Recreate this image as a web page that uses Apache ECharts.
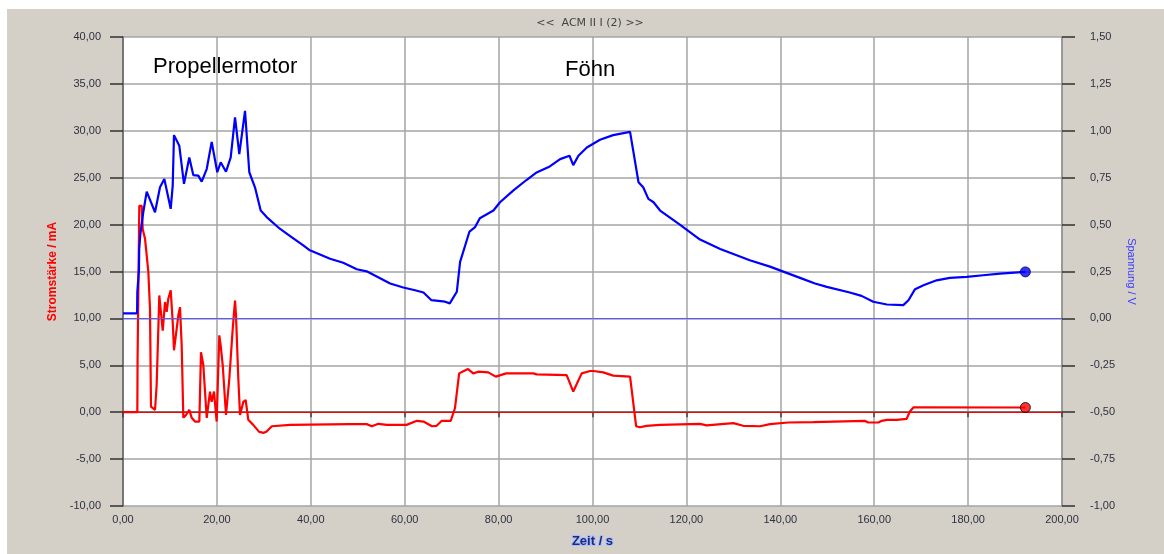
<!DOCTYPE html>
<html>
<head>
<meta charset="utf-8">
<script src="https://cdn.jsdelivr.net/npm/echarts@6/dist/echarts.min.js"></script>
<style>
html,body{margin:0;padding:0;background:#fff;}
#chart{width:1164px;height:554px;}
</style>
</head>
<body>
<div id="chart"></div>
<script>
// ---- data (time in s, value) ----
const headerText = '<<  ACM II I (2) >>';
const xTicks = [0, 20, 40, 60, 80, 100, 120, 140, 160, 180, 200];
const leftRange = [-10, 40, 5];      // Stromstärke / mA
const rightRange = [-1, 1.5, 0.25];  // Spannung / V
const annotations = ['Propellermotor', 'Föhn'];

// Spannung / V (blue, right axis)
const voltagePoints = [
  [0, 0.027], [3.0, 0.027], [3.05, 0.14], [3.4, 0.26], [3.45, 0.37], [3.7, 0.45],
  [4.32, 0.566], [5.05, 0.676], [6.82, 0.566], [7.88, 0.699], [8.80, 0.743],
  [10.16, 0.584], [10.59, 0.708], [10.86, 0.977], [11.99, 0.920], [12.99, 0.717],
  [14.12, 0.858], [14.97, 0.764], [16.04, 0.761], [16.76, 0.729], [17.83, 0.796],
  [18.89, 0.941], [20.08, 0.779], [20.81, 0.832], [21.94, 0.782], [22.94, 0.858],
  [23.86, 1.071], [24.77, 0.876], [25.99, 1.106], [26.90, 0.779], [28.11, 0.699],
  [29.33, 0.575], [30.6, 0.54], [33.4, 0.478], [35.6, 0.439], [38.4, 0.389],
  [39.8, 0.363], [44.1, 0.318], [46.9, 0.297], [49.8, 0.262], [51.9, 0.251],
  [56.9, 0.186], [59.7, 0.165], [62.2, 0.150], [64.0, 0.138], [65.7, 0.097],
  [68.6, 0.089], [69.6, 0.080], [71.1, 0.142], [71.8, 0.301], [73.8, 0.463],
  [75.0, 0.487], [76.0, 0.534], [78.9, 0.575], [80.3, 0.619], [83.1, 0.681],
  [86.0, 0.739], [88.1, 0.778], [90.9, 0.810], [93.1, 0.849], [95.1, 0.867],
  [95.9, 0.817], [97.0, 0.867], [98.8, 0.911], [101.6, 0.952], [104.4, 0.977],
  [108.0, 0.994], [109.8, 0.726], [110.8, 0.699], [111.9, 0.637], [113.0, 0.619],
  [114.4, 0.575], [118.6, 0.50], [122.9, 0.42], [127.2, 0.37], [133.5, 0.31],
  [137.8, 0.276], [144.2, 0.216], [147.4, 0.186], [149.9, 0.168], [154.8, 0.138],
  [157.3, 0.120], [159.8, 0.089], [162.7, 0.074], [166.2, 0.071], [167.3, 0.097],
  [168.7, 0.156], [170.5, 0.177], [173.3, 0.203], [176.1, 0.216], [179.7, 0.221],
  [183.2, 0.230], [186.8, 0.239], [192.2, 0.248]
];

// Stromstärke / mA (red, left axis)
const currentPoints = [
  [0, 0], [3.05, 0], [3.1, 5.4], [3.47, 22.0], [3.98, 22.0], [4.2, 19.5],
  [4.69, 18.5], [5.39, 15.0], [5.75, 11.0], [5.96, 0.6], [6.82, 0.25],
  [7.17, 2.9], [7.73, 12.45], [8.03, 10.9], [8.46, 8.7], [8.95, 11.75],
  [9.31, 10.7], [9.65, 12.1], [10.16, 13.0], [10.59, 9.6], [10.86, 6.6],
  [11.44, 8.9], [11.78, 10.3], [12.14, 11.2], [12.5, 7.1], [12.85, -0.6],
  [13.42, -0.3], [14.12, 0.25], [14.63, -0.6], [15.34, -1.0], [16.26, -1.0],
  [16.61, 6.4], [17.11, 5.0], [17.83, -0.6], [18.53, 2.2], [18.89, 1.1],
  [19.38, 2.2], [19.95, -1.0], [20.51, 8.2], [20.81, 7.1], [21.24, 5.0],
  [21.94, -0.3], [22.65, 3.6], [23.37, 8.9], [23.86, 11.9], [24.07, 10.3],
  [24.56, 3.6], [24.92, -0.3], [25.63, 1.1], [26.13, 1.3], [26.68, -0.8],
  [27.74, -1.35], [29.0, -2.1], [30.0, -2.2], [30.6, -2.05], [31.7, -1.5],
  [35.6, -1.35], [48.3, -1.27], [51.9, -1.27], [53.0, -1.5], [54.4, -1.24],
  [56.2, -1.35], [60.4, -1.35], [62.6, -0.92], [64.0, -1.0], [65.8, -1.5],
  [66.8, -1.45], [67.9, -0.92], [69.8, -0.92], [70.7, 0.42], [71.6, 4.14],
  [72.6, 4.39], [73.5, 4.6], [74.6, 4.14], [75.7, 4.32], [77.8, 4.25],
  [79.4, 3.79], [81.6, 4.14], [87.4, 4.14], [88.1, 4.03], [94.5, 3.96],
  [95.9, 2.2], [97.7, 4.14], [99.5, 4.39], [100.2, 4.39], [102.3, 4.25],
  [104.4, 3.9], [108.0, 3.79], [109.3, -1.5], [110.1, -1.6], [111.5, -1.45],
  [114.4, -1.35], [122.9, -1.24], [124.3, -1.4], [130.0, -1.17], [132.1, -1.45],
  [135.7, -1.5], [137.8, -1.27], [141.7, -1.1], [147.0, -1.06], [147.4, -0.92],
  [158.0, -0.92], [158.7, -1.1], [160.9, -1.1], [161.6, -0.92], [162.7, -0.82],
  [164.8, -0.82], [166.9, -0.71], [167.6, 0.07], [168.4, 0.53], [192.2, 0.5]
];

const fmt = v => v.toFixed(2).replace('.', ',');
const labelFont = { fontFamily: 'Liberation Sans', fontSize: 11, color: '#2e3040' };

const chart = echarts.init(document.getElementById('chart'), null, { renderer: 'canvas' });
chart.setOption({
  animation: false,
  backgroundColor: '#ffffff',
  graphic: [
    { type: 'rect', z: -100, silent: true, shape: { x: 7, y: 9, width: 1157, height: 545 }, style: { fill: '#d4d0c8' } },
    { type: 'text', z: 10, x: 590, y: 23,
      style: { text: headerText, font: '11px "DejaVu Sans"', fill: '#444444', align: 'center', verticalAlign: 'middle' } },
    { type: 'text', z: 10, x: 153, y: 67,
      style: { text: annotations[0], font: '22px "Liberation Sans"', fill: '#000000', verticalAlign: 'middle', align: 'left' } },
    { type: 'text', z: 10, x: 565, y: 70,
      style: { text: annotations[1], font: '22px "Liberation Sans"', fill: '#000000', verticalAlign: 'middle', align: 'left' } }
  ],
  grid: {
    left: 123, right: 102, top: 37, bottom: 46,
    show: true, backgroundColor: '#ffffff', borderWidth: 0
  },
  xAxis: {
    type: 'value', min: xTicks[0], max: xTicks[xTicks.length - 1], interval: 20,
    name: 'Zeit / s', nameLocation: 'middle', nameGap: 29,
    nameTextStyle: { fontFamily: 'Liberation Sans', fontSize: 13, fontWeight: 'bold', color: '#1c2a78',
      textBorderColor: '#a9bcff', textBorderWidth: 2 },
    axisLine: { show: true, lineStyle: { color: '#606060', width: 1.5 } },
    axisTick: { show: true, length: 5, lineStyle: { color: '#404040', width: 1.5 } },
    axisLabel: Object.assign({ margin: 8, formatter: fmt }, labelFont),
    splitLine: { show: true, lineStyle: { color: '#a5a5a5', width: 1.5 } }
  },
  yAxis: [
    {
      type: 'value', position: 'left', min: leftRange[0], max: leftRange[1], interval: leftRange[2],
      name: 'Stromstärke / mA', nameLocation: 'middle', nameGap: 63, nameRotate: 90,
      nameTextStyle: { fontFamily: 'Liberation Sans', fontSize: 12, fontWeight: 'bold', color: '#ff0000' },
      axisLine: { show: true, lineStyle: { color: '#606060', width: 1.5 } },
      axisTick: { show: true, length: 13, lineStyle: { color: '#303030', width: 1.5 } },
      axisLabel: Object.assign({ margin: 22, formatter: fmt }, labelFont),
      splitLine: { show: true, lineStyle: { color: '#a5a5a5', width: 1.5 } }
    },
    {
      type: 'value', position: 'right', min: rightRange[0], max: rightRange[1], interval: rightRange[2],
      name: 'Spannung / V', nameLocation: 'middle', nameGap: 55, nameRotate: -90,
      nameTextStyle: { fontFamily: 'Liberation Sans', fontSize: 11, color: '#3a3aff' },
      axisLine: { show: true, lineStyle: { color: '#909090', width: 1.5 } },
      axisTick: { show: true, length: 13, lineStyle: { color: '#303030', width: 1.5 } },
      axisLabel: Object.assign({ margin: 28, formatter: fmt }, labelFont),
      splitLine: { show: false }
    }
  ],
  series: [
    {
      name: 'Spannung', type: 'line', yAxisIndex: 1, data: voltagePoints,
      symbol: 'none', lineStyle: { color: '#0000ff', width: 2.2 }, z: 5,
      markLine: { silent: true, symbol: 'none', label: { show: false },
        lineStyle: { color: '#5a5aff', width: 1, type: 'solid' }, data: [{ yAxis: 0 }] }
    },
    {
      name: 'Stromstärke', type: 'line', yAxisIndex: 0, data: currentPoints,
      symbol: 'none', lineStyle: { color: '#ff0000', width: 2.2 }, z: 4,
      markLine: { silent: true, symbol: 'none', label: { show: false },
        lineStyle: { color: '#ff0000', width: 1, type: 'solid' }, data: [{ yAxis: 0 }] }
    },
    {
      type: 'scatter', yAxisIndex: 1, data: [voltagePoints[voltagePoints.length - 1]],
      symbol: 'circle', symbolSize: 10, z: 6,
      itemStyle: { color: '#0000ff', borderColor: '#000060', borderWidth: 1 }
    },
    {
      type: 'scatter', yAxisIndex: 0, data: [currentPoints[currentPoints.length - 1]],
      symbol: 'circle', symbolSize: 10, z: 6,
      itemStyle: { color: '#ff0000', borderColor: '#000000', borderWidth: 1 }
    }
  ]
});
</script>
</body>
</html>
